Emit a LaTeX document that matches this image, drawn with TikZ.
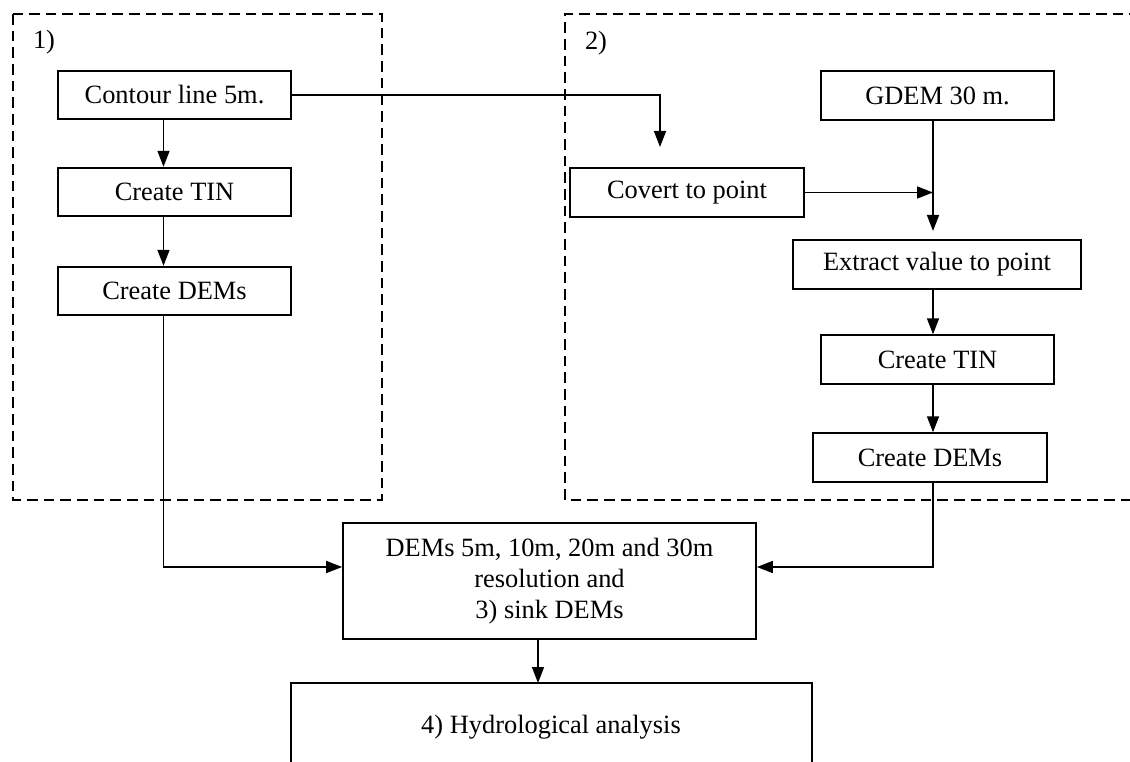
\documentclass[tikz,border=0pt]{standalone}
\usepackage{fontspec}
\setmainfont{Liberation Serif}
\usetikzlibrary{arrows.meta,calc}
\begin{document}
\begin{tikzpicture}[x=0.75pt,y=-0.75pt,
  font=\fontsize{19.8pt}{23.5pt}\selectfont,
  box/.style={draw,line width=1.3pt,inner sep=0pt,align=center,minimum height=36.5pt},
  arr/.style={line width=1.2pt,-{Triangle[length=12pt,width=9pt]}},
  grp/.style={line width=1.2pt,dash pattern=on 8pt off 4.5pt}]
\path[use as bounding box,clip] (0,0) rectangle (1130,762);
\fill[white] (0,0) rectangle (1130,762);
% groups
\draw[grp] (13,14) rectangle (382,500);
\draw[grp] (1140,14) -- (565,14) -- (565,500) -- (1140,500);
\node (lab1) at (44,42) {1)};
\node (lab2) at (596,43) {2)};
% nodes
\node[box,minimum width=174.75pt] (contour) at (174.5,95) {Contour line 5m.};
\node[box,minimum width=174.75pt] (tinL) at (174.5,192) {Create TIN};
\node[box,minimum width=174.75pt] (demL) at (174.5,291) {Create DEMs};
\node[box,minimum width=175.5pt] (covert) at (687,192.5) {Covert to point};
\node[box,minimum width=174.75pt] (gdem) at (937.5,95.5) {GDEM 30 m.};
\node[box,minimum width=216pt] (extract) at (937,264.5) {Extract value to point};
\node[box,minimum width=174.75pt] (tinR) at (937.5,359.5) {Create TIN};
\node[box,minimum width=175.5pt] (demR) at (930,457.5) {Create DEMs};
\node[box,minimum width=309.75pt,minimum height=87pt] (dems) at (549.5,581)
  {DEMs 5m, 10m, 20m and 30m\\resolution and\\3) sink DEMs};
\node (hydro) at (551,727) {4) Hydrological analysis};
\draw[line width=1.3pt] (291,780) -- (291,683) -- (812,683) -- (812,780);
% helper coordinates
\coordinate (xL) at (163.5,0);
\coordinate (xR) at (933,0);
\coordinate (ya) at (0,567);
\coordinate (c1) at (660,147);
\coordinate (c2) at (933,231);
\coordinate (htop) at (538,683);
% connectors
\draw[arr] (contour.south -| xL) -- (tinL.north -| xL);
\draw[arr] (tinL.south -| xL) -- (demL.north -| xL);
\draw[arr] (contour.east) -| (c1);
\draw[arr] (gdem.south -| c2) -- (c2);
\draw[arr] (covert.east) -- (covert.east -| c2);
\draw[arr] (extract.south -| xR) -- (tinR.north -| xR);
\draw[arr] (tinR.south -| xR) -- (demR.north -| xR);
\draw[arr] (demL.south -| xL) |- (dems.west |- ya);
\draw[arr] (demR.south -| xR) |- (dems.east |- ya);
\draw[arr] (dems.south -| htop) -- (htop);
\end{tikzpicture}
\end{document}
